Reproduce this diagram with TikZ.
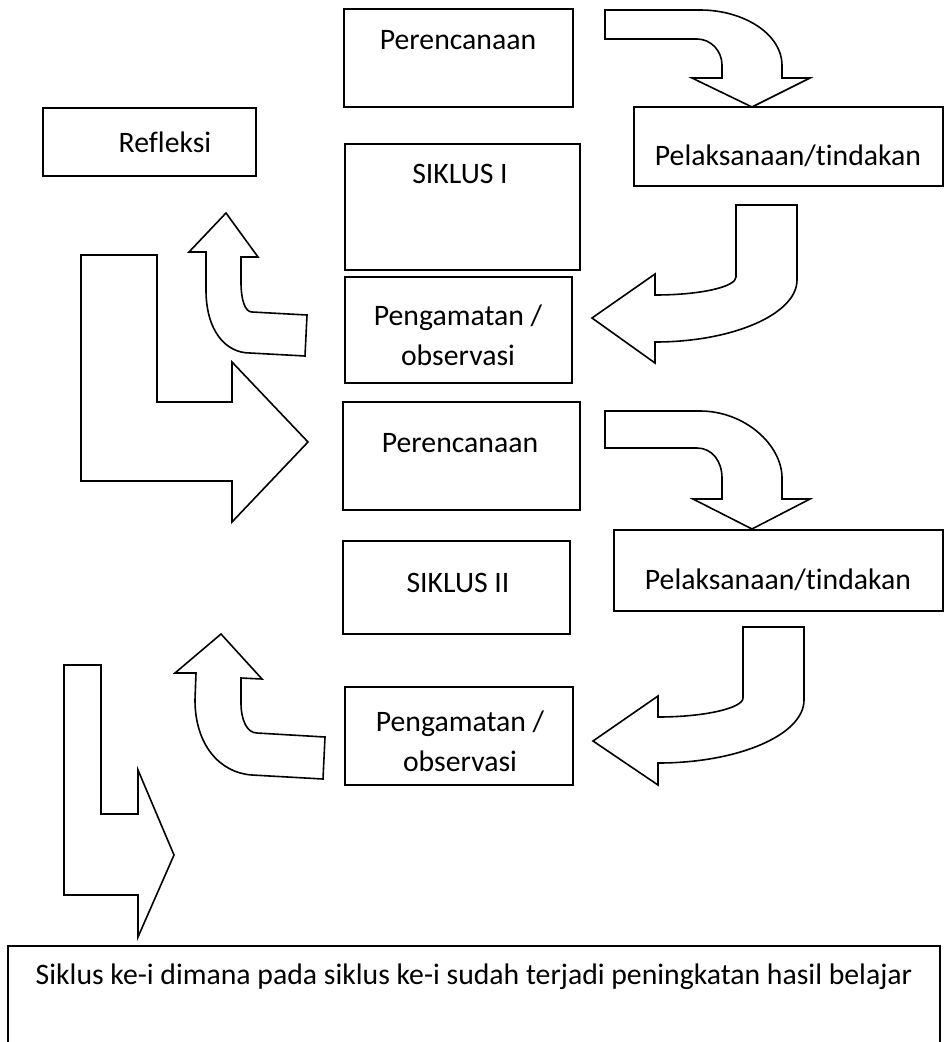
\documentclass[tikz,border=0pt]{standalone}
\usepackage{fontspec}
\setmainfont{Carlito}[Ligatures=NoCommon]
\usepackage{tikz}

\tikzset{
  txt/.style={font=\fontsize{22.3}{30}\selectfont, inner sep=0.75pt, align=center},
  boxline/.style={line width=1.2pt},
  blockarrow/.style={line width=1.2pt, line join=miter}
}

\begin{document}
\begin{tikzpicture}[x=0.75pt,y=0.75pt,yscale=-1,xscale=1]
\useasboundingbox (0,0) rectangle (946,1042);

%Shape: Rectangle [Perencanaan 1]
\draw [boxline]  (344,9) rectangle (573,107) ;
%Shape: Rectangle [Refleksi]
\draw [boxline]  (43,108) rectangle (256,176) ;
%Shape: Rectangle [Siklus I]
\draw [boxline]  (345,144) rectangle (580,270) ;
%Shape: Rectangle [Pelaksanaan 1]
\draw [boxline]  (634,107) rectangle (943,186) ;
%Shape: Rectangle [Pengamatan 1]
\draw [boxline]  (345,277) rectangle (572,383) ;
%Shape: Rectangle [Perencanaan 2]
\draw [boxline]  (343,402) rectangle (580,510) ;
%Shape: Rectangle [Siklus II]
\draw [boxline]  (343,541) rectangle (570,634) ;
%Shape: Rectangle [Pelaksanaan 2]
\draw [boxline]  (614,530) rectangle (943,611) ;
%Shape: Rectangle [Pengamatan 2]
\draw [boxline]  (345,687) rectangle (573,785) ;
%Shape: Rectangle [hasil]
\draw [boxline]  (8,946) rectangle (940,1060) ;

%Curved Arrow [perencanaan -> pelaksanaan, siklus I]
\draw [blockarrow]  (605,10) -- (700,10) .. controls (745,10) and (782,35) .. (782,65) -- (782,78) -- (810,78) -- (752,107) -- (692,78) -- (722,78) -- (722,65) .. controls (722,51) and (711,39) .. (697,39) -- (605,39) -- cycle ;
%Curved Arrow [pelaksanaan -> pengamatan, siklus I]
\draw [blockarrow]  (736,205) -- (797,205) -- (797,280) .. controls (797,314) and (733,342) .. (655,342) -- (655,363) -- (592,318) -- (655,274) -- (655,295) .. controls (700,295) and (736,287) .. (736,277) -- cycle ;
%Curved Arrow [pengamatan -> refleksi]
\draw [blockarrow]  (226,213) -- (258,257) -- (241,257) -- (241,282) .. controls (241,300) and (245,312) .. (252,312) -- (307,315) -- (305,356) -- (250,353) .. controls (225,353) and (206,330) .. (206,290) -- (206,252) -- (189,252) -- cycle ;
%L Arrow [refleksi -> siklus II]
\draw [blockarrow]  (81,255) -- (157,255) -- (157,402) -- (232,402) -- (232,362) -- (308,442) -- (232,522) -- (232,481) -- (81,481) -- cycle ;

%Curved Arrow [perencanaan -> pelaksanaan, siklus II]
\draw [blockarrow]  (605,411) -- (700,411) .. controls (745,411) and (782,445) .. (782,478) -- (782,499) -- (810,499) -- (752,529) -- (693,499) -- (722,499) -- (722,478) .. controls (722,461) and (712,448) .. (697,448) -- (605,448) -- cycle ;
%Curved Arrow [pelaksanaan -> pengamatan, siklus II]
\draw [blockarrow]  (743,627) -- (804,627) -- (804,700) .. controls (804,735) and (738,763) .. (658,763) -- (658,785) -- (593,741) -- (658,696) -- (658,717) .. controls (705,717) and (743,708) .. (743,698) -- cycle ;
%Curved Arrow [pengamatan -> refleksi, siklus II]
\draw [blockarrow]  (221,634) -- (262,679) -- (241,678) -- (241,703) .. controls (241,720) and (247,733) .. (257,733) -- (325,737) -- (323,779) -- (252,775) .. controls (220,773) and (195,745) .. (195,700) -- (196,673) -- (175,673) -- cycle ;
%L Arrow [siklus II -> hasil]
\draw [blockarrow]  (64,665) -- (101,665) -- (101,814) -- (138,814) -- (138,770) -- (174,855) -- (138,937) -- (138,895) -- (64,895) -- cycle ;

% Text Node
\draw (458,40) node [txt] (plan1) {Perencanaan};
% Text Node
\draw (165,142) node [txt] (refl) {Refleksi};
% Text Node
\draw (460,174) node [txt] (sik1) {SIKLUS I};
% Text Node
\draw (788,156) node [txt] (act1) {Pelaksanaan/tindakan};
% Text Node
\draw (458,335) node [txt] (obs1) {Pengamatan /\\observasi};
% Text Node
\draw (460,443) node [txt] (plan2) {Perencanaan};
% Text Node
\draw (458,583) node [txt] (sik2) {SIKLUS II};
% Text Node
\draw (778,580) node [txt] (act2) {Pelaksanaan/tindakan};
% Text Node
\draw (460,741) node [txt] (obs2) {Pengamatan /\\observasi};
% Text Node
\draw (474,977) node [txt] (hasil) {Siklus ke-i dimana pada siklus ke-i sudah terjadi peningkatan hasil belajar};

\end{tikzpicture}
\end{document}
